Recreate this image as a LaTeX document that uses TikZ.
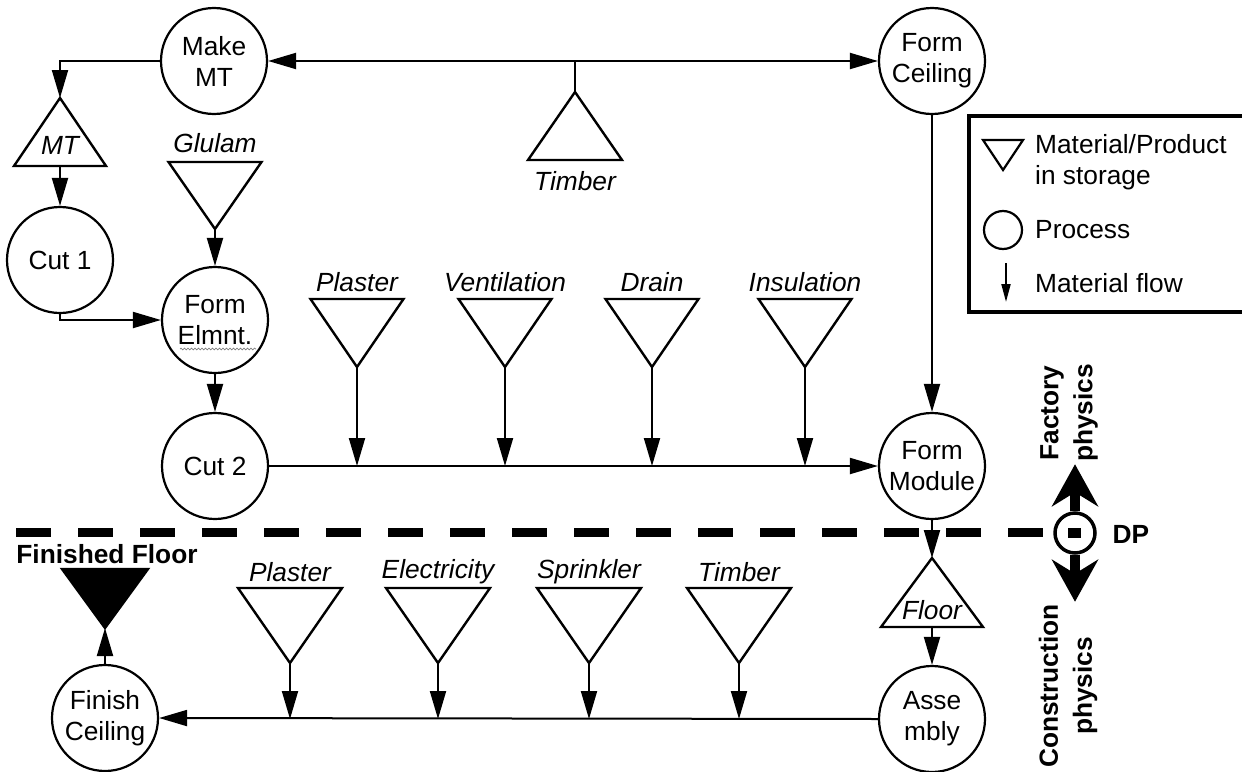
\documentclass[tikz,border=0pt]{standalone}
\usepackage{fontspec}
\setmainfont{Liberation Sans}
\usetikzlibrary{arrows.meta,decorations.pathmorphing}
\newcommand{\dfont}{\fontsize{26.3}{31}\selectfont}
% style, name, x, ytop, halfwidth, height  (apex down)
\newcommand{\DnTri}[6]{%
  \draw[#1] (#3-#5,#4) -- (#3+#5,#4) -- (#3,#4+#6) -- cycle;
  \coordinate (#2) at (#3,#4+#6);
  \coordinate (#2-top) at (#3,#4);}
% style, name, x, yapex, halfwidth, height  (apex up)
\newcommand{\UpTri}[6]{%
  \draw[#1] (#3,#4) -- (#3+#5,#4+#6) -- (#3-#5,#4+#6) -- cycle;
  \coordinate (#2) at (#3,#4);
  \coordinate (#2-base) at (#3,#4+#6);}
\tikzset{
  proc/.style={circle, draw, line width=2.2pt, minimum size=106pt, inner sep=0pt, align=center, font=\dfont},
  tri/.style={draw, line width=2.4pt, line join=miter},
  conn/.style={line width=2pt},
  flow/.style={conn, -{Triangle[length=28pt,width=16pt]}},
  lbl/.style={font=\dfont\itshape, inner sep=0pt},
  bl/.style={font=\dfont\bfseries, inner sep=0pt, align=center},
  leg/.style={font=\dfont, inner sep=0pt, anchor=west, align=left},
  bigarrow/.style={line width=10pt, -{Stealth[length=42pt,width=46pt,inset=14pt]}}
}
\begin{document}
\begin{tikzpicture}[x=1pt,y=-1pt]
\useasboundingbox (0,0) rectangle (1242,771);

% process circles
\node[proc] (makemt) at (214,61) {Make\\MT};
\node[proc] (formceil) at (932,61) {Form\\Ceiling};
\node[proc] (cut1) at (60,260) {Cut 1};
\node[proc] (forme) at (215,320) {Form\\Elmnt.};
\node[proc] (cut2) at (215,466) {Cut 2};
\node[proc] (formmod) at (932,466) {Form\\Module};
\node[proc] (assem) at (932,719) {Asse\\mbly};
\node[proc] (finceil) at (105,718) {Finish\\Ceiling};

% squiggle under Elmnt.
\draw[gray, line width=0.7pt, decorate, decoration={snake, amplitude=0.9pt, segment length=3.5pt}] (180,349) -- (256,349);

% storage triangles (upper part)
\UpTri{tri}{mt}{60}{98}{46}{68}
\node[lbl] (mtl) at (60,145) {MT};
\UpTri{tri}{timber}{575}{92}{47}{68}
\node[lbl] (timberl) at (575,181) {Timber};
\DnTri{tri}{glulam}{215}{162}{46.5}{67}
\node[lbl] (glulaml) at (215,143) {Glulam};

\DnTri{tri}{plaster1}{357}{299}{46.5}{68}
\DnTri{tri}{vent}{505}{299}{46.5}{68}
\DnTri{tri}{drain}{652}{299}{46.5}{68}
\DnTri{tri}{insul}{805}{299}{46.5}{68}
\node[lbl] (plaster1l) at (357,282) {Plaster};
\node[lbl] (ventl) at (505,282) {Ventilation};
\node[lbl] (drainl) at (652,282) {Drain};
\node[lbl] (insull) at (805,282) {Insulation};

% lower part
\UpTri{tri}{floor}{932}{558}{51}{69}
\node[lbl] (floorl) at (932,610) {Floor};
\DnTri{tri}{plaster2}{290}{588}{52}{75}
\DnTri{tri}{elec}{438}{588}{52}{75}
\DnTri{tri}{sprink}{589}{588}{52}{75}
\DnTri{tri}{timber2}{739}{588}{52}{75}
\node[lbl] (plaster2l) at (290,572) {Plaster};
\node[lbl] (elecl) at (438,572) {Electricity};
\node[lbl] (sprinkl) at (589,572) {Sprinkler};
\node[lbl] (timber2l) at (739,572) {Timber};
\DnTri{tri, fill=black}{finfloor}{105}{569}{43}{59}
\node[bl] (finfloorl) at (107,554) {Finished Floor};

% connectors (upper)
\draw[conn, {Triangle[length=28pt,width=16pt]}-{Triangle[length=28pt,width=16pt]}] (makemt.east) -- (formceil.west);
\draw[conn] (timber) -- (timber |- makemt.east);
\draw[flow] (makemt.west) -| (mt);
\draw[flow] (mt-base) -- (cut1.north);
\draw[flow] (glulam) -- (forme.north);
\draw[flow] (cut1.south) |- (forme.west);
\draw[flow] (forme.south) -- (cut2.north);
\draw[flow] (cut2.east) -- (formmod.west);
\foreach \t in {plaster1,vent,drain,insul}
  \draw[flow] (\t) -- (\t |- cut2.east);
\draw[flow] (formceil.south) -- (formmod.north);

% dashed decoupling line
\draw[line width=9pt, dash pattern=on 35pt off 27pt] (16,532) -- (1043,532);

% connectors (lower)
\draw[flow] (formmod.south) -- (floor);
\draw[flow] (floor-base) -- (assem.north);
\draw[flow] (assem.west) -- (finceil.east);
\foreach \t in {plaster2,elec,sprink,timber2}
  \draw[flow] (\t) -- (\t |- assem.west);
\draw[flow] (finceil.north) -- (finfloor);

% DP symbol
\node[circle, draw, line width=3.5pt, minimum size=40pt, inner sep=0pt] (dp) at (1075,533) {};
\fill (1068,528) rectangle (1081,538);
\node[bl] (dpl) at (1131,534) {DP};
\draw[bigarrow] (dp.north) -- ++(0,-47);
\draw[bigarrow] (dp.south) -- ++(0,47);
\node[bl, rotate=90, font=\fontsize{26.3}{34}\selectfont\bfseries] (fact) at (1069,413) {Factory\\physics};
\node[bl, rotate=90, font=\fontsize{26.3}{34}\selectfont\bfseries] (constr) at (1068,686) {Construction\\physics};

% legend
\draw[line width=4pt] (1250,116) -- (969,116) -- (969,312) -- (1250,312);
\DnTri{tri, line width=2.2pt}{legtri}{1003}{140}{20}{30}
\node[leg] (legt) at (1035,162) {Material/Product\\in storage};
\node[circle, draw, line width=2.2pt, minimum size=38pt, inner sep=0pt] (legc) at (1003,230) {};
\node[leg] (legp) at (1035,230) {Process};
\coordinate (lega) at (1006,263);
\coordinate (legb) at (1006,302);
\draw[conn, -{Triangle[length=18pt,width=9pt]}] (lega) -- (legb);
\node[leg] (legf) at (1035,283) {Material flow};
\end{tikzpicture}
\end{document}
